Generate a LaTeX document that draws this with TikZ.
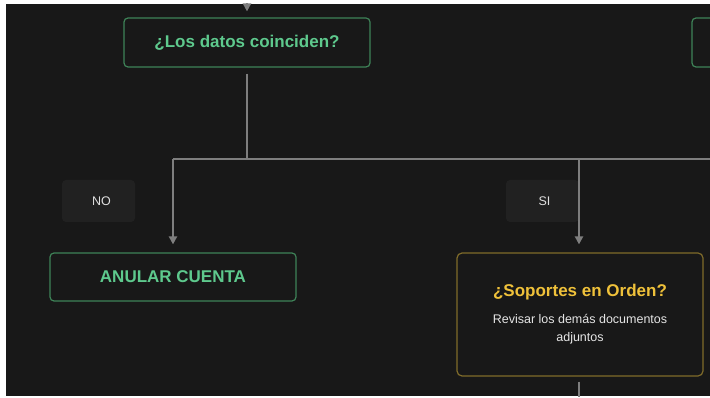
\documentclass[tikz,border=0pt]{standalone}
\usepackage{fontspec}
\setmainfont{Liberation Sans}
\usetikzlibrary{arrows.meta}
\definecolor{fondo}{HTML}{181818}
\definecolor{verde}{HTML}{5EC98D}
\definecolor{verdeborde}{HTML}{3E8257}
\definecolor{oro}{HTML}{EFC13A}
\definecolor{oroborde}{HTML}{7F6B2A}
\definecolor{linea}{HTML}{7E7E7E}
\definecolor{etiqueta}{HTML}{212121}
\newcommand{\fsize}[1]{\fontsize{#1}{#1}\selectfont}

\begin{document}
\begin{tikzpicture}[x=1pt,y=-1pt,
	caja/.style={draw=verdeborde, line width=1.2pt, rounded corners=4pt, fill=fondo,
		text=verde, font=\fsize{17}\bfseries, minimum width=246pt, inner sep=0pt},
	pregunta/.style={draw=oroborde, line width=1.2pt, rounded corners=5pt, fill=fondo,
		minimum width=246pt, minimum height=123pt, inner sep=0pt, align=center},
	rotulo/.style={fill=etiqueta, rounded corners=4pt, text=white!88!black,
		font=\fsize{12.5}, minimum width=73pt, minimum height=42pt, inner sep=0pt},
	flecha/.style={draw=linea, line width=2.4pt, -{Triangle[width=8pt,length=8pt]}},
	tramo/.style={draw=linea, line width=2.4pt}]
	\useasboundingbox (0,0) rectangle (710,398);
	\fill[white] (0,0) rectangle (710,398);
	\fill[fondo] (6,4) rectangle (710,396);

	\begin{scope}
	\clip (6,4) rectangle (710,396);
	\coordinate (arriba) at (247,-10);
	\node[caja, minimum height=49pt] (datos) at (247,42.5) {¿Los datos coinciden?};
	\node[caja, minimum height=49pt] (vecino) at (815,42.5) {};
	\coordinate (cruce) at (247,159);
	\coordinate (izq) at (173,159);
	\coordinate (der) at (579,159);
	\coordinate (borde) at (720,159);

	\node[caja, minimum height=48pt] (anular) at (173,277) {ANULAR CUENTA};
	\node[pregunta] (soportes) at (580,314.5) {};
	\node[text=oro, font=\fsize{17}\bfseries] (titulo) at (580,292) {¿Soportes en Orden?};
	\node[text=white!90!black, font=\fsize{12.5}, align=center] (detalle) at (580,329)
		{Revisar los demás documentos\\[5.5pt]adjuntos};
	\coordinate (abajo) at (579,410);

	\node[rotulo] (no) at (98.5,201) {\hspace*{6pt}NO};
	\node[rotulo] (si) at (542.5,201) {\hspace*{4pt}SI};

	\draw[flecha, shorten >=6pt] (arriba) -- (datos.north);
	\draw[tramo, shorten <=6pt] (datos.south) -- (cruce);
	\draw[tramo] (izq) -- (borde);
	\draw[flecha, shorten >=8pt] (izq) -- (anular.north -| izq);
	\draw[flecha, shorten >=8pt] (der) -- (soportes.north -| der);
	\draw[tramo, shorten <=5pt] (soportes.south -| der) -- (abajo);
	\end{scope}
\end{tikzpicture}
\end{document}
